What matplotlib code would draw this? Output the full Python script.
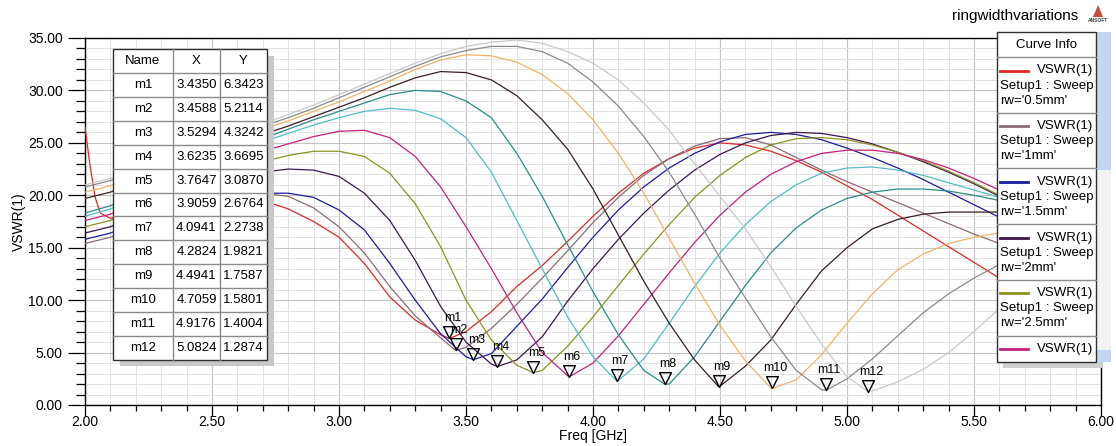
import numpy as np
import matplotlib.pyplot as plt
from matplotlib.patches import Rectangle, Polygon
from matplotlib.ticker import MultipleLocator, FormatStrFormatter

plt.rcParams['font.family'] = ['Liberation Sans', 'DejaVu Sans']

# frequency samples (GHz)
freq = np.linspace(2.0, 6.0, 41)

# VSWR at every 0.1 GHz, one list per ring width
vswr_05 = [26.5, 17.8, 18.5, 19.1, 19.6, 19.9, 19.9, 19.5, 18.7, 17.5,
           16.0, 13.5, 10.3, 8.1, 6.7, 7.0, 8.9, 11.3, 13.3, 15.6,
           18.0, 20.2, 22.1, 23.5, 24.5, 25.0, 24.8, 24.2, 23.3, 22.2,
           20.9, 19.6, 18.1, 16.6, 15.1, 13.6, 12.1, 10.2, 8.2, 6.0, 3.9]
vswr_1 = [15.4, 16.0, 17.0, 18.0, 18.9, 19.6, 20.0, 20.2, 19.9, 18.8,
          17.0, 14.5, 11.3, 8.5, 6.4, 5.5, 7.3, 9.6, 12.1, 14.7,
          17.4, 19.8, 21.9, 23.5, 24.7, 25.4, 25.5, 24.8, 23.6, 22.4,
          21.3, 20.3, 19.3, 18.3, 17.3, 16.3, 15.4, 14.4, 13.4, 12.4, 11.4]
vswr_15 = [15.8, 16.4, 17.3, 18.2, 19.0, 19.6, 20.0, 20.2, 20.2, 19.8,
           18.6, 16.7, 13.5, 10.0, 6.8, 4.6, 4.9, 7.5, 10.1, 13.1,
           16.0, 18.6, 20.8, 22.6, 24.0, 25.1, 25.8, 26.0, 25.8, 25.3,
           24.5, 23.6, 22.6, 21.5, 20.3, 19.1, 17.9, 16.9, 15.9, 15.0, 14.2]
vswr_2 = [16.4, 17.0, 18.1, 19.2, 20.2, 21.0, 21.7, 22.2, 22.5, 22.4,
          21.8, 20.2, 17.6, 13.8, 9.4, 6.0, 3.9, 4.3, 6.5, 9.9,
          13.0, 15.8, 18.3, 20.5, 22.4, 23.9, 25.0, 25.7, 26.0, 25.9,
          25.5, 24.9, 24.1, 23.2, 22.2, 21.1, 19.9, 18.8, 17.7, 16.7, 15.8]
vswr_25 = [17.0, 17.6, 18.7, 19.8, 20.8, 21.7, 22.5, 23.2, 23.8, 24.2,
           24.2, 23.7, 22.1, 19.2, 15.1, 10.0, 6.2, 3.8, 3.3, 5.6,
           8.4, 11.4, 14.4, 17.2, 19.8, 21.9, 23.6, 24.8, 25.4, 25.5,
           25.3, 24.8, 24.1, 23.3, 22.3, 21.2, 20.0, 18.9, 17.9, 17.0, 16.2]
vswr_3 = [17.6, 18.2, 19.3, 20.4, 21.5, 22.5, 23.4, 24.2, 24.9, 25.6,
          26.1, 26.2, 25.5, 23.7, 20.8, 17.0, 13.0, 8.8, 5.0, 2.8,
          4.0, 6.6, 9.6, 12.6, 15.5, 18.1, 20.3, 22.0, 23.2, 24.0,
          24.3, 24.3, 24.0, 23.4, 22.6, 21.6, 20.5, 19.5, 18.5, 17.6, 16.8]
vswr_35 = [18.0, 18.7, 19.8, 21.0, 22.2, 23.3, 24.3, 25.1, 25.9, 26.7,
           27.4, 28.0, 28.3, 28.1, 27.3, 25.5, 22.2, 17.6, 13.0, 8.4,
           4.6, 2.35, 4.4, 7.8, 11.3, 14.5, 17.2, 19.4, 21.0, 22.1,
           22.6, 22.7, 22.4, 21.9, 21.2, 20.5, 19.8, 19.1, 18.4, 17.8, 17.2]
vswr_4 = [18.3, 19.0, 20.1, 21.3, 22.5, 23.6, 24.6, 25.4, 26.3, 27.2,
          28.0, 28.8, 29.6, 30.0, 29.9, 29.0, 27.4, 24.0, 19.9, 15.3,
          10.8, 6.7, 3.3, 2.0, 4.6, 8.0, 11.4, 14.5, 16.9, 18.6,
          19.7, 20.3, 20.6, 20.6, 20.4, 20.0, 19.5, 19.0, 18.5, 18.0, 17.5]
vswr_45 = [19.7, 20.3, 21.3, 22.4, 23.4, 24.3, 25.1, 25.8, 26.6, 27.5,
           28.4, 29.3, 30.3, 31.2, 31.8, 31.7, 31.0, 29.5, 27.2, 24.4,
           20.6, 16.2, 11.8, 7.8, 4.3, 1.8, 3.7, 6.2, 9.6, 12.8,
           15.0, 16.8, 17.7, 18.2, 18.4, 18.4, 18.4, 18.3, 18.2, 18.0, 17.8]
vswr_5 = [20.3, 20.9, 21.9, 22.9, 23.9, 24.8, 25.6, 26.3, 27.1, 28.0,
          28.9, 29.9, 30.9, 32.0, 32.9, 33.4, 33.3, 32.7, 31.5, 29.7,
          27.2, 24.0, 20.2, 15.9, 11.6, 7.6, 4.2, 1.62, 2.4, 4.8,
          7.8, 10.6, 12.9, 14.4, 15.4, 16.0, 16.4, 16.6, 16.7, 16.7, 16.6]
vswr_55 = [20.8, 21.4, 22.3, 23.3, 24.2, 25.1, 25.9, 26.6, 27.4, 28.3,
           29.3, 30.3, 31.3, 32.3, 33.2, 33.8, 34.2, 34.2, 33.7, 32.6,
           30.8, 28.5, 25.6, 22.2, 18.2, 14.0, 10.2, 6.5, 3.3, 1.45,
           2.5, 4.4, 6.6, 8.8, 10.6, 12.1, 13.4, 14.5, 15.4, 16.1, 16.7]
vswr_6 = [21.0, 21.6, 22.5, 23.5, 24.4, 25.3, 26.1, 26.8, 27.7, 28.6,
          29.6, 30.6, 31.6, 32.6, 33.5, 34.2, 34.6, 34.8, 34.5, 33.7,
          32.6, 31.0, 28.8, 26.2, 23.0, 19.9, 16.8, 13.2, 9.4, 5.8,
          2.7, 1.35, 2.2, 3.4, 5.0, 7.0, 9.2, 11.2, 13.0, 14.5, 15.7]

# sharp spike of the 0.5 mm trace at the start of the sweep
red_lead_f = [2.02, 2.04, 2.06]
red_lead_v = [22.8, 19.8, 18.3]

curves = [vswr_05, vswr_1, vswr_15, vswr_2, vswr_25, vswr_3,
          vswr_35, vswr_4, vswr_45, vswr_5, vswr_55, vswr_6]
rw_labels = ["0.5mm", "1mm", "1.5mm", "2mm", "2.5mm", "3mm",
             "3.5mm", "4mm", "4.5mm", "5mm", "5.5mm", "6mm"]
colors = ['#e02828', '#8c6c74', '#1c1ca0', '#3c1650', '#8c9222', '#c4207e',
          '#52bcc6', '#2e8a8c', '#3a1e1e', '#f0b46a', '#8a8a8a', '#cacaca']

# marker table
mk_names = ['m%d' % i for i in range(1, 13)]
mk_x = [3.4350, 3.4588, 3.5294, 3.6235, 3.7647, 3.9059,
        4.0941, 4.2824, 4.4941, 4.7059, 4.9176, 5.0824]
mk_y = [6.3423, 5.2114, 4.3242, 3.6695, 3.0870, 2.6764,
        2.2738, 1.9821, 1.7587, 1.5801, 1.4004, 1.2874]

W, H = 1116, 446
fig = plt.figure(figsize=(W / 100, H / 100), dpi=100)
ax = fig.add_axes([85 / W, (H - 405) / H, 1016 / W, 367 / H])

for i, vals in enumerate(curves):
    f = np.append(freq, mk_x[i])
    v = np.append(vals, mk_y[i])
    if i == 0:
        f = np.append(f, red_lead_f)
        v = np.append(v, red_lead_v)
    order = np.argsort(f)
    ax.plot(f[order], v[order], color=colors[i], lw=0.9, zorder=3)

# markers: open triangles with the tip on the point
tri = [(0, 0), (-1, 2), (1, 2), (0, 0)]
for name, x, y in zip(mk_names, mk_x, mk_y):
    ax.plot(x, y, marker=tri, ms=17, mfc='none', mec='black', mew=1.0, zorder=6)
    ax.annotate(name, (x, y), xytext=(3, 14), textcoords='offset pixels',
                ha='center', va='bottom', fontsize=9, zorder=7)

ax.set_xlim(2, 6)
ax.set_ylim(0, 35)
ax.xaxis.set_major_locator(MultipleLocator(0.5))
ax.xaxis.set_minor_locator(MultipleLocator(0.1))
ax.yaxis.set_major_locator(MultipleLocator(5))
ax.yaxis.set_minor_locator(MultipleLocator(1))
ax.xaxis.set_major_formatter(FormatStrFormatter('%.2f'))
ax.yaxis.set_major_formatter(FormatStrFormatter('%.2f'))
ax.grid(which='major', color='#c4c4c4', lw=0.8, zorder=0)
ax.grid(which='minor', color='#e2e2e2', lw=0.7, zorder=0)
ax.set_axisbelow(True)
ax.tick_params(axis='y', which='major', length=12, width=0.9, pad=4, labelsize=10)
ax.tick_params(axis='y', which='minor', length=6.5, width=0.9)
ax.tick_params(axis='x', which='major', length=8, width=0.9, pad=-1, labelsize=10)
ax.tick_params(axis='x', which='minor', length=4.5, width=0.9)
for s in ax.spines.values():
    s.set_linewidth(1.0)
ax.set_xlabel('Freq [GHz]', fontsize=10)
ax.set_ylabel('VSWR(1)', fontsize=10)
ax.xaxis.set_label_coords(0.5, -(429 - 405) / 367)
ax.yaxis.set_label_coords(-(85 - 26) / 1016, 0.5)

# overlay in pixel units for table, legend and title
ov = fig.add_axes([0, 0, 1, 1])
ov.set_xlim(0, W)
ov.set_ylim(H, 0)
ov.axis('off')

# marker table
cx = [113, 173, 220, 267]
ty0, rh = 49, 23.92
nrow = len(mk_names) + 1
tb = ty0 + rh * nrow
ov.add_patch(Rectangle((120, 56), 154, tb + 6 - 56, fc='#c8c8c8', ec='none'))
ov.add_patch(Rectangle((cx[0], ty0), cx[-1] - cx[0], tb - ty0, fc='white',
                       ec='#303030', lw=1.0))
for k in range(1, nrow):
    ov.plot([cx[0], cx[-1]], [ty0 + k * rh] * 2, color='#8a8a8a', lw=1.0)
for c in cx[1:-1]:
    ov.plot([c, c], [ty0, tb], color='#8a8a8a', lw=1.0)
mids = [(cx[j] + cx[j + 1]) / 2 for j in range(3)]
for j, head in enumerate(['Name', 'X', 'Y']):
    ov.text(mids[j], ty0 + rh / 2, head, ha='center', va='center', fontsize=9.5)
for k, (name, x, y) in enumerate(zip(mk_names, mk_x, mk_y)):
    yc = ty0 + rh * (k + 1.5)
    ov.text(mids[0], yc, name, ha='center', va='center', fontsize=9.5)
    ov.text(mids[1], yc, '%.4f' % x, ha='center', va='center', fontsize=9.5)
    ov.text(mids[2], yc, '%.4f' % y, ha='center', va='center', fontsize=9.5)

# curve info box (scrolled list, only first entries visible)
lx0, lx1, ly0, ly1 = 997, 1096, 32, 362
ov.add_patch(Rectangle((lx0 + 6, ly0 + 6), lx1 - lx0, ly1 - ly0, fc='#cfcfcf', ec='none'))
ov.add_patch(Rectangle((1097, ly0), 14, ly1 - ly0, fc='#f2f2f2', ec='none'))
ov.add_patch(Rectangle((1097, ly0), 14, 138, fc='#c6d6f2', ec='none'))
ov.add_patch(Rectangle((1097, ly1 - 12), 14, 12, fc='#c6d6f2', ec='none'))
box = Rectangle((lx0, ly0), lx1 - lx0, ly1 - ly0, fc='white', ec='#303030', lw=1.0)
ov.add_patch(box)
ov.text((lx0 + lx1) / 2, 45, 'Curve Info', ha='center', va='center', fontsize=9.5)
ov.plot([lx0, lx1], [57, 57], color='#8a8a8a', lw=1.0)
eh = 55.7
for i in range(6):
    top = 57 + i * eh
    ov.plot([1000, 1028], [top + 13.5] * 2, color=colors[i], lw=2.0)
    ov.text(1093, top + 13.5, 'VSWR(1)', ha='right', va='center', fontsize=9.5)
    if top + 36 < ly1:
        ov.text(1000, top + 28.5, 'Setup1 : Sweep', ha='left', va='center', fontsize=9.5)
        ov.text(1000, top + 43.5, "rw='%s'" % rw_labels[i], ha='left', va='center',
                fontsize=9.5)
    if top + eh < ly1:
        ov.plot([lx0, lx1], [top + eh] * 2, color='#8a8a8a', lw=1.0)

# title and logo
ov.text(1078, 16, 'ringwidthvariations', ha='right', va='center', fontsize=11)
ov.add_patch(Polygon([(1093, 17), (1098, 5), (1103, 17)], closed=True,
                     fc='#c84a3a', ec='none'))
ov.text(1098, 21, 'ANSOFT', ha='center', va='center', fontsize=3.5, fontweight='bold',
        color='#404040')

fig.savefig('out.png', dpi=100)
